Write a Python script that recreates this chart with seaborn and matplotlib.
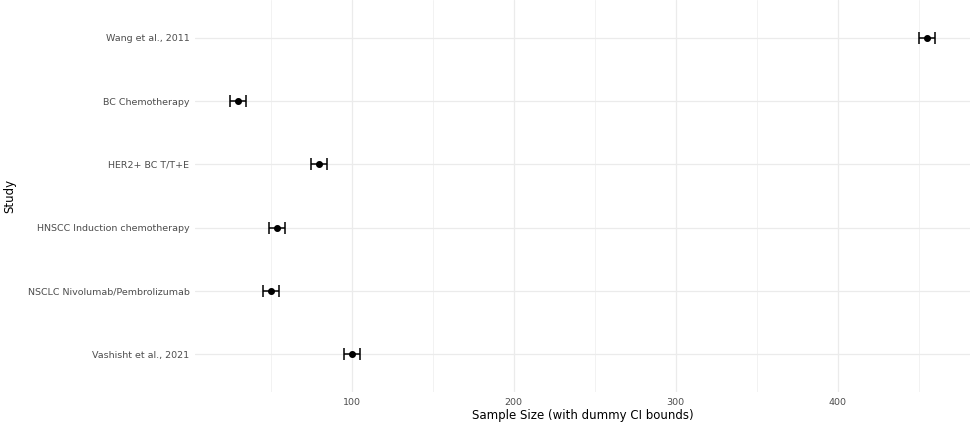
import numpy as np
import pandas as pd
import seaborn as sns
import matplotlib
matplotlib.use("Agg")
import matplotlib.pyplot as plt
from matplotlib.ticker import MultipleLocator

## Data
studies = ["Wang et al., 2011", "BC Chemotherapy", "HER2+ BC T/T+E",
           "HNSCC Induction chemotherapy", "NSCLC Nivolumab/Pembrolizumab",
           "Vashisht et al., 2021"]
sample_size = [455, 30, 80, 54, 50, 100]
ci_lower = [450, 25, 75, 49, 45, 95]
ci_upper = [460, 35, 85, 59, 55, 105]

df = pd.DataFrame({"study": studies, "n": sample_size,
                   "lo": ci_lower, "hi": ci_upper})

sns.set_theme(style="white")
plt.rcParams["font.family"] = ["DejaVu Sans"]

fig = plt.figure(figsize=(9.75, 4.28), dpi=100)
ax = fig.add_axes([0.2, 0.084, 0.795, 0.916])

### Points
sns.pointplot(data=df, x="n", y="study", order=studies, orient="h",
              linestyle="none", color="black", markersize=3,
              errorbar=None, ax=ax, zorder=3)

### CI bars
pos = np.arange(len(studies))
ax.errorbar(df["n"], pos, xerr=[df["n"] - df["lo"], df["hi"] - df["n"]],
            fmt="none", ecolor="black", elinewidth=1.1, capsize=4,
            capthick=1.1, zorder=2)

### Axes styling (ggplot minimal look)
span = max(ci_upper) - min(ci_lower)
ax.set_xlim(min(ci_lower) - 0.05 * span, max(ci_upper) + 0.05 * span)
ax.set_ylim(len(studies) - 0.4, -0.6)
ax.xaxis.set_major_locator(MultipleLocator(100))
ax.xaxis.set_minor_locator(MultipleLocator(50))
ax.grid(True, which="major", axis="both", color="#EBEBEB", lw=0.9, zorder=0)
ax.grid(True, which="minor", axis="x", color="#F2F2F2", lw=0.7, zorder=0)
ax.set_axisbelow(True)
for s in ax.spines.values():
    s.set_visible(False)
ax.tick_params(axis="both", which="both", length=0, labelsize=6.8,
               labelcolor="#4D4D4D", pad=4)
ax.set_xlabel("Sample Size (with dummy CI bounds)", fontsize=8.5,
              color="black", labelpad=2)
ax.set_ylabel("Study", fontsize=8.5, color="black", labelpad=8)

fig.savefig("out.png", dpi=100)
